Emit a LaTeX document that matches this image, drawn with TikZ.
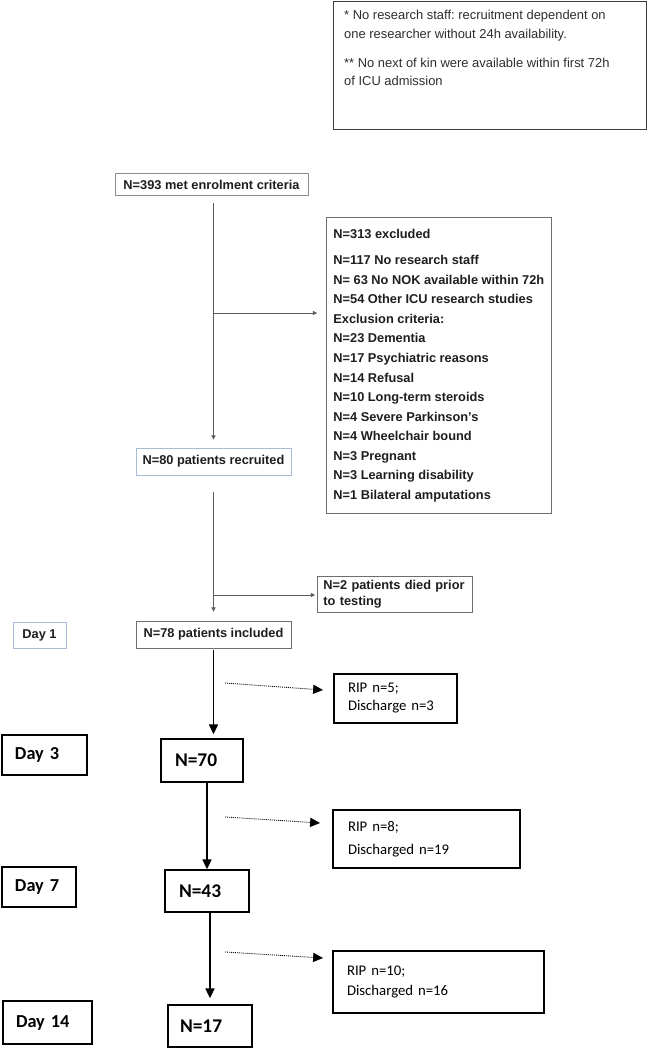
\documentclass[tikz,border=0pt]{standalone}
\usepackage{fontspec}
\setmainfont{Liberation Sans}
\newfontfamily\carlito[WordSpace=0.8]{Carlito}
\frenchspacing
\usetikzlibrary{arrows.meta}
\definecolor{ink}{HTML}{1E1E1E}
\definecolor{linegrey}{HTML}{5A5A5A}
\definecolor{boxgrey}{HTML}{6E6E6E}
\definecolor{lightgrey}{HTML}{8C8C8C}
\definecolor{paleblue}{HTML}{A7BCD6}
\definecolor{notegrey}{HTML}{3C3C3C}
\definecolor{notetext}{HTML}{2E2E2E}
\newlength{\pxu}\setlength{\pxu}{0.025cm}
\newcommand{\notefont}{\fontsize{9.2}{13.3}\selectfont}
\newcommand{\topfont}{\fontsize{9.1}{13.5}\selectfont\bfseries}
\newcommand{\listfont}{\fontsize{9.1}{13.9}\selectfont\bfseries}
\newcommand{\diedfont}{\fontsize{9.1}{11.4}\selectfont\bfseries}
\newcommand{\dayfont}{\carlito\fontsize{13}{15}\selectfont\bfseries}
\newcommand{\countfont}{\carlito\fontsize{13.8}{16}\selectfont\bfseries}
\tikzset{
  notebox/.style={draw=notegrey, line width=1pt, text=notetext, font=\notefont,
                  inner xsep=10.5\pxu, inner ysep=9\pxu},
  flowbox/.style={draw=boxgrey, line width=0.6pt, inner sep=0pt, text=ink, font=\topfont},
  listbox/.style={draw=boxgrey, line width=0.6pt, align=left, inner xsep=7\pxu,
                  inner ysep=11.5\pxu, text=ink, font=\listfont},
  daybox/.style={draw, line width=1.1pt, align=left, inner xsep=13\pxu, font=\dayfont},
  countbox/.style={draw, line width=1.1pt, align=left, inner xsep=14\pxu, font=\countfont},
  ripbox/.style={draw, line width=0.8pt, align=left, inner xsep=14\pxu},
  thinarr/.style={-{Triangle[length=3pt,width=3pt]}, line width=0.6pt, color=linegrey},
  thickarr/.style={-{Triangle[length=7pt,width=6.5pt]}, line width=0.9pt},
  dotarr/.style={-{Triangle[length=7pt,width=6.5pt]}, line width=0.6pt, dash pattern=on 0.7pt off 0.7pt}}

\begin{document}
\begin{tikzpicture}[x=0.025cm, y=-0.025cm]
  \path[fill=white, use as bounding box] (0,0) rectangle (648,1048);

  % footnote box
  \node[notebox, anchor=north west] (note) at (333,0.7)
    {\begin{minipage}[t][110\pxu][t]{292\pxu}\raggedright
     * No research staff: recruitment dependent on\\
     one researcher without 24h availability.\\[7pt]
     ** No next of kin were available within first 72h\\
     of ICU admission
     \end{minipage}};

  % screening part
  \node[flowbox, draw=lightgrey, minimum width=193\pxu, minimum height=22\pxu] (met) at (211.5,184.5)
    {N=393 met enrolment criteria};
  \node[listbox, anchor=north west] (excl) at (326,217)
    {N=313 excluded\\[5pt]
     N=117 No research staff\\
     N= 63 No NOK available within 72h\\
     N=54 Other ICU research studies\\
     Exclusion criteria:\\
     N=23 Dementia\\
     N=17 Psychiatric reasons\\
     N=14 Refusal\\
     N=10 Long-term steroids\\
     N=4 Severe Parkinson's\\
     N=4 Wheelchair bound\\
     N=3 Pregnant\\
     N=3 Learning disability\\
     N=1 Bilateral amputations};
  \node[flowbox, draw=paleblue, minimum width=155\pxu, minimum height=27\pxu] (recr) at (213.5,461.5)
    {N=80 patients recruited};
  \node[flowbox, anchor=north west, align=left, text width=143\pxu, inner xsep=6\pxu,
        minimum height=36\pxu, font=\diedfont] (died) at (317,576)
    {N=2 patients died prior\\to testing};
  \node[flowbox, minimum width=155\pxu, minimum height=27\pxu] (incl) at (213.5,634.5)
    {N=78 patients included};
  \node[flowbox, draw=paleblue, minimum width=53\pxu, minimum height=26\pxu] (day1) at (39.5,635)
    {Day 1};

  \coordinate (b1) at (213,313);
  \coordinate (b2) at (213,595);
  \draw[thinarr, shorten <=7\pxu, shorten >=8\pxu] (recr.north |- met.south) -- (recr.north);
  \draw[thinarr, shorten >=9\pxu] (b1) -- (b1 -| excl.west);
  \draw[thinarr, shorten <=17\pxu, shorten >=9\pxu] (recr) -- (incl);
  \draw[thinarr, shorten >=2\pxu] (b2) -- (b2 -| died.west);

  % follow-up part
  \node[countbox, text width=54\pxu, minimum height=43\pxu] (n70) at (202,760.5) {N=70};
  \node[countbox, text width=56\pxu, minimum height=42\pxu] (n43) at (207,891) {N=43};
  \node[countbox, text width=60\pxu, inner xsep=12\pxu, minimum height=42\pxu] (n17) at (210,1026) {N=17};
  \node[daybox, text width=59\pxu, minimum height=40\pxu] (day3) at (44.5,755) {Day 3};
  \node[daybox, text width=48\pxu, minimum height=40\pxu] (day7) at (39,887) {Day 7};
  \node[daybox, text width=63\pxu, minimum height=43\pxu] (day14) at (47.5,1022.5) {Day 14};

  \node[ripbox, text width=95\pxu, minimum height=49\pxu, font=\carlito\fontsize{10.5}{12.8}\selectfont] (rip1)
    at (395.5,698.5) {RIP n=5;\\Discharge n=3};
  \node[ripbox, text width=157\pxu, inner xsep=15\pxu, minimum height=58\pxu, font=\carlito\fontsize{10.5}{16.4}\selectfont] (rip2)
    at (426.5,839) {RIP n=8;\\Discharged n=19};
  \node[ripbox, text width=183\pxu, minimum height=62\pxu, font=\carlito\fontsize{10.5}{14.2}\selectfont] (rip3)
    at (438.5,982) {RIP n=10;\\Discharged n=16};

  \draw[thickarr, shorten <=2\pxu, shorten >=4\pxu] (incl.south) -- (incl.south |- n70.north);
  \draw[thickarr] (n43.north |- n70.south) -- (n43.north);
  \draw[thickarr, shorten >=6\pxu] (n17.north |- n43.south) -- (n17.north);

  \coordinate (dt1a) at (225,683);  \coordinate (dt1b) at (323,690);
  \coordinate (dt2a) at (225,817);  \coordinate (dt2b) at (320,823);
  \coordinate (dt3a) at (225,952);  \coordinate (dt3b) at (323,958);
  \draw[dotarr] (dt1a) -- (dt1b);
  \draw[dotarr] (dt2a) -- (dt2b);
  \draw[dotarr] (dt3a) -- (dt3b);
\end{tikzpicture}
\end{document}
